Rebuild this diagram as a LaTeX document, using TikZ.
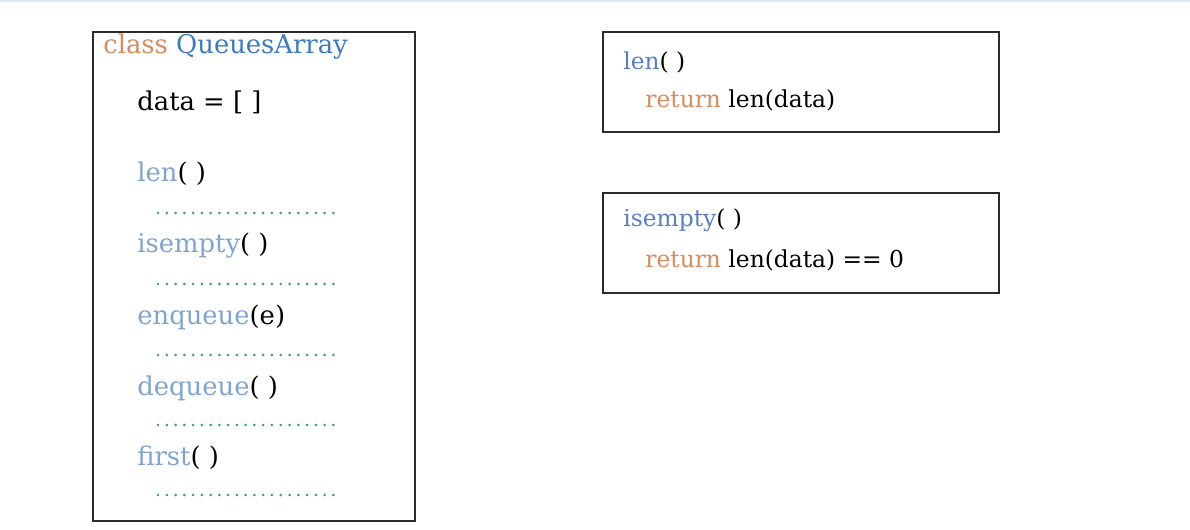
\documentclass[tikz,border=0pt]{standalone}
\usepackage{fontspec}
\setmainfont{DejaVu Serif}
\definecolor{kworange}{HTML}{D98A5C}
\definecolor{clsblue}{HTML}{3B7BBE}
\definecolor{methblue}{HTML}{7EA4D2}
\definecolor{methblue2}{HTML}{5A7EC4}
\definecolor{dotgreen}{HTML}{34A866}
\definecolor{topline}{HTML}{DCE8F5}
\definecolor{framegray}{HTML}{2B2B2B}
\begin{document}
\begin{tikzpicture}[x=0.02cm,y=-0.02cm,
  frame/.style={draw=framegray,line width=0.7pt},
  bigtxt/.style={anchor=base west,inner sep=0pt,font=\fontsize{14.7}{17}\selectfont},
  smalltxt/.style={anchor=base west,inner sep=0pt,font=\fontsize{13.3}{15}\selectfont},
  dotrow/.style={dotgreen,line width=1.7pt,line cap=round,dash pattern=on 0pt off 4.99pt}]
\useasboundingbox (0,0) rectangle (1190,530);
% thin rule along the top edge
\draw[topline,line width=1pt] (0,0.8) -- (1190,0.8);

% class box
\draw[frame] (93,32) rectangle (415,521);
\node[bigtxt] (cls) at (103,54) {\textcolor{kworange}{class} \textcolor{clsblue}{QueuesArray}};
\node[bigtxt] (data) at (137,111) {data = [ ]};
\node[bigtxt] (mlen) at (137,182) {\textcolor{methblue}{len}( )};
\node[bigtxt] (mempty) at (137,253) {\textcolor{methblue}{isempty}( )};
\node[bigtxt] (menq) at (137,324) {\textcolor{methblue}{enqueue}(e)};
\node[bigtxt] (mdeq) at (137,395) {\textcolor{methblue}{dequeue}( )};
\node[bigtxt] (mfirst) at (137,465) {\textcolor{methblue}{first}( )};
\foreach \y in {213,284,355,425,495}
  \draw[dotrow] (158,\y) -- (334,\y);

% len() box
\draw[frame] (603,32) rectangle (999,132);
\node[smalltxt] (lenhead) at (623,70) {\textcolor{methblue2}{len}( )};
\node[smalltxt] (lenbody) at (645,108) {\textcolor{kworange}{return} len(data)};

% isempty() box
\draw[frame] (603,193) rectangle (999,293);
\node[smalltxt] (emptyhead) at (623,227) {\textcolor{methblue2}{isempty}( )};
\node[smalltxt] (emptybody) at (645,268) {\textcolor{kworange}{return} len(data) == 0};
\end{tikzpicture}
\end{document}
